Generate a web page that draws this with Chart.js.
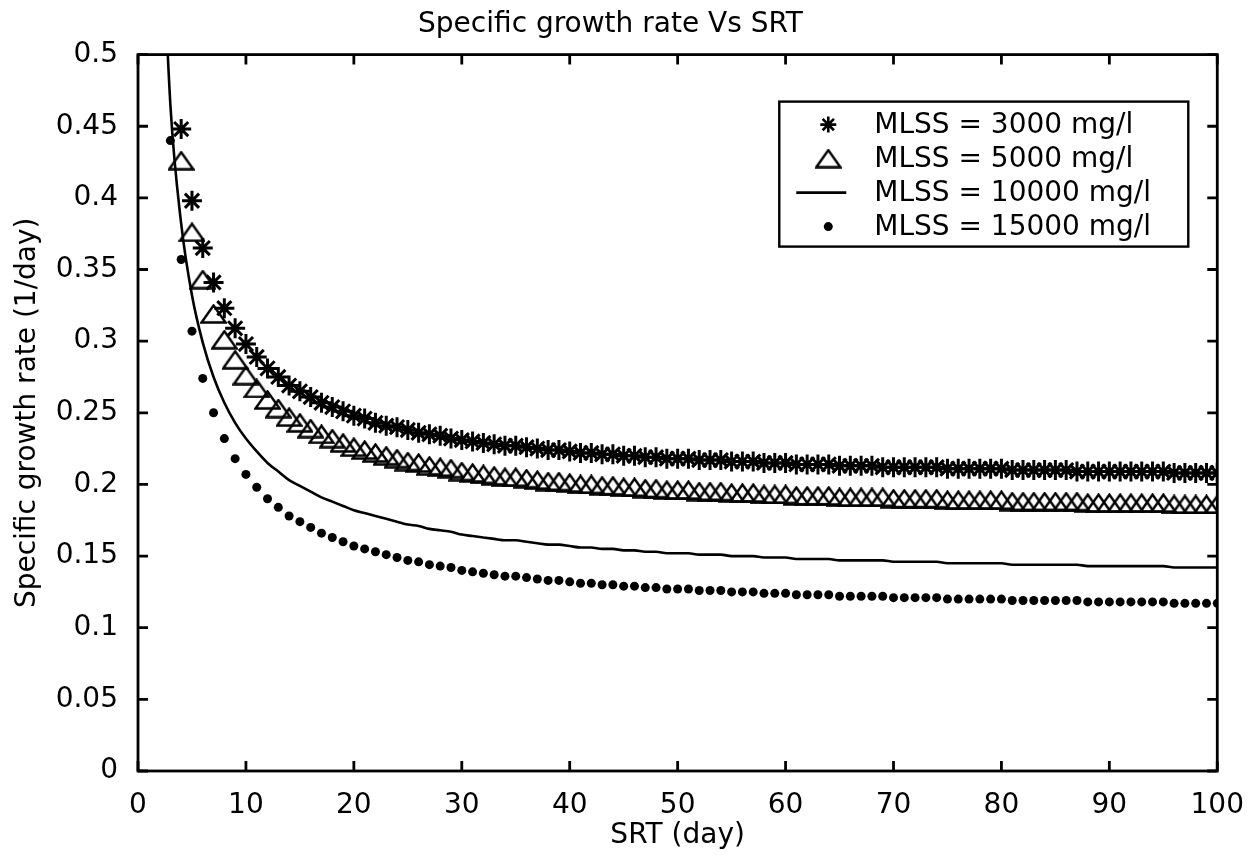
<!DOCTYPE html>
<html>
<head>
<meta charset="utf-8">
<title>Specific growth rate Vs SRT</title>
<script src="https://cdn.jsdelivr.net/npm/chart.js"></script>
<style>
  html, body { margin: 0; padding: 0; background: #fff; }
  #wrap { width: 1254px; height: 855px; }
</style>
</head>
<body>
<div id="wrap"><canvas id="myChart"></canvas></div>
<script>
// SRT values (day), one per point
var srtDays = [
  2, 3, 4, 5, 6, 7, 8, 9,
  10, 11, 12, 13, 14, 15, 16, 17, 18, 19,
  20, 21, 22, 23, 24, 25, 26, 27, 28, 29,
  30, 31, 32, 33, 34, 35, 36, 37, 38, 39,
  40, 41, 42, 43, 44, 45, 46, 47, 48, 49,
  50, 51, 52, 53, 54, 55, 56, 57, 58, 59,
  60, 61, 62, 63, 64, 65, 66, 67, 68, 69,
  70, 71, 72, 73, 74, 75, 76, 77, 78, 79,
  80, 81, 82, 83, 84, 85, 86, 87, 88, 89,
  90, 91, 92, 93, 94, 95, 96, 97, 98, 99,
  100
];

// specific growth rate (1/day)
var mu3000 = [
  null, null, 0.448, 0.398, 0.365, 0.341, 0.323, 0.309,
  0.298, 0.289, 0.281, 0.275, 0.269, 0.265, 0.261, 0.257, 0.254, 0.251,
  0.248, 0.246, 0.243, 0.241, 0.240, 0.238, 0.236, 0.235, 0.234, 0.232,
  0.231, 0.230, 0.229, 0.228, 0.227, 0.227, 0.226, 0.225, 0.224, 0.224,
  0.223, 0.222, 0.222, 0.221, 0.221, 0.220, 0.220, 0.219, 0.219, 0.218,
  0.218, 0.218, 0.217, 0.217, 0.217, 0.216, 0.216, 0.216, 0.215, 0.215,
  0.215, 0.214, 0.214, 0.214, 0.214, 0.213, 0.213, 0.213, 0.213, 0.212,
  0.212, 0.212, 0.212, 0.212, 0.212, 0.211, 0.211, 0.211, 0.211, 0.211,
  0.211, 0.210, 0.210, 0.210, 0.210, 0.210, 0.210, 0.209, 0.209, 0.209,
  0.209, 0.209, 0.209, 0.209, 0.209, 0.209, 0.208, 0.208, 0.208, 0.208,
  0.208
];
var mu5000 = [
  null, null, 0.426, 0.376, 0.343, 0.319, 0.301, 0.287,
  0.276, 0.267, 0.259, 0.253, 0.247, 0.243, 0.239, 0.235, 0.232, 0.229,
  0.226, 0.224, 0.222, 0.220, 0.218, 0.216, 0.215, 0.213, 0.212, 0.211,
  0.209, 0.208, 0.207, 0.206, 0.205, 0.205, 0.204, 0.203, 0.202, 0.202,
  0.201, 0.200, 0.200, 0.199, 0.199, 0.198, 0.198, 0.197, 0.197, 0.196,
  0.196, 0.196, 0.195, 0.195, 0.195, 0.194, 0.194, 0.194, 0.193, 0.193,
  0.193, 0.192, 0.192, 0.192, 0.192, 0.191, 0.191, 0.191, 0.191, 0.191,
  0.190, 0.190, 0.190, 0.190, 0.190, 0.189, 0.189, 0.189, 0.189, 0.189,
  0.189, 0.188, 0.188, 0.188, 0.188, 0.188, 0.188, 0.188, 0.187, 0.187,
  0.187, 0.187, 0.187, 0.187, 0.187, 0.187, 0.186, 0.186, 0.186, 0.186,
  0.186
];
var mu10000 = [
  0.632, 0.465, 0.382, 0.332, 0.299, 0.275, 0.257, 0.243,
  0.232, 0.223, 0.215, 0.209, 0.203, 0.199, 0.195, 0.191, 0.188, 0.185,
  0.182, 0.180, 0.178, 0.176, 0.174, 0.172, 0.171, 0.169, 0.168, 0.167,
  0.165, 0.164, 0.163, 0.162, 0.161, 0.161, 0.160, 0.159, 0.158, 0.158,
  0.157, 0.156, 0.156, 0.155, 0.155, 0.154, 0.154, 0.153, 0.153, 0.152,
  0.152, 0.152, 0.151, 0.151, 0.151, 0.150, 0.150, 0.150, 0.149, 0.149,
  0.149, 0.148, 0.148, 0.148, 0.148, 0.147, 0.147, 0.147, 0.147, 0.147,
  0.146, 0.146, 0.146, 0.146, 0.146, 0.145, 0.145, 0.145, 0.145, 0.145,
  0.145, 0.144, 0.144, 0.144, 0.144, 0.144, 0.144, 0.144, 0.143, 0.143,
  0.143, 0.143, 0.143, 0.143, 0.143, 0.143, 0.142, 0.142, 0.142, 0.142,
  0.142
];
var mu15000 = [
  null, 0.440, 0.357, 0.307, 0.274, 0.250, 0.232, 0.218,
  0.207, 0.198, 0.190, 0.184, 0.178, 0.174, 0.170, 0.166, 0.163, 0.160,
  0.157, 0.155, 0.153, 0.151, 0.149, 0.147, 0.146, 0.144, 0.143, 0.142,
  0.140, 0.139, 0.138, 0.137, 0.136, 0.136, 0.135, 0.134, 0.133, 0.133,
  0.132, 0.131, 0.131, 0.130, 0.130, 0.129, 0.129, 0.128, 0.128, 0.127,
  0.127, 0.127, 0.126, 0.126, 0.126, 0.125, 0.125, 0.125, 0.124, 0.124,
  0.124, 0.123, 0.123, 0.123, 0.123, 0.122, 0.122, 0.122, 0.122, 0.122,
  0.121, 0.121, 0.121, 0.121, 0.121, 0.120, 0.120, 0.120, 0.120, 0.120,
  0.120, 0.119, 0.119, 0.119, 0.119, 0.119, 0.119, 0.119, 0.118, 0.118,
  0.118, 0.118, 0.118, 0.118, 0.118, 0.118, 0.117, 0.117, 0.117, 0.117,
  0.117
];

var seriesLabels = ['MLSS = 3000 mg/l', 'MLSS = 5000 mg/l', 'MLSS = 10000 mg/l', 'MLSS = 15000 mg/l'];
var xTickLabels = ['0', '10', '20', '30', '40', '50', '60', '70', '80', '90', '100'];
var yTickLabels = ['0', '0.05', '0.1', '0.15', '0.2', '0.25', '0.3', '0.35', '0.4', '0.45', '0.5'];

function toPoints(ys) {
  var pts = [];
  for (var i = 0; i < srtDays.length; i++) {
    if (ys[i] !== null) pts.push({ x: srtDays[i], y: ys[i] });
  }
  return pts;
}

// wide open triangle like the matlab '^' marker
function makeTriangle() {
  var c = document.createElement('canvas');
  c.width = 27; c.height = 20;
  var g = c.getContext('2d');
  g.strokeStyle = '#000';
  g.lineWidth = 2.4;
  g.lineJoin = 'miter';
  g.beginPath();
  g.moveTo(1.5, 18.5);
  g.lineTo(13.5, 1.5);
  g.lineTo(25.5, 18.5);
  g.closePath();
  g.stroke();
  return c;
}
var triMarker = makeTriangle();

function drawStar(ctx, x, y, r) {
  ctx.beginPath();
  for (var k = 0; k < 4; k++) {
    var a = k * Math.PI / 4;
    ctx.moveTo(x - r * Math.cos(a), y - r * Math.sin(a));
    ctx.lineTo(x + r * Math.cos(a), y + r * Math.sin(a));
  }
  ctx.stroke();
}

// box around the plot and inward ticks
var framePlugin = {
  id: 'frame',
  afterDraw: function(chart) {
    var ctx = chart.ctx, a = chart.chartArea;
    var xs = chart.scales.x, ys = chart.scales.y;
    ctx.save();
    ctx.strokeStyle = '#000';
    ctx.lineWidth = 2.8;
    ctx.strokeRect(a.left, a.top, a.right - a.left, a.bottom - a.top);
    ctx.beginPath();
    xs.ticks.forEach(function(t) {
      var px = xs.getPixelForValue(t.value);
      ctx.moveTo(px, a.bottom); ctx.lineTo(px, a.bottom - 10);
      ctx.moveTo(px, a.top); ctx.lineTo(px, a.top + 10);
    });
    ys.ticks.forEach(function(t) {
      var py = ys.getPixelForValue(t.value);
      ctx.moveTo(a.left, py); ctx.lineTo(a.left + 10, py);
      ctx.moveTo(a.right, py); ctx.lineTo(a.right - 10, py);
    });
    ctx.stroke();
    ctx.restore();
  }
};

// boxed legend in the upper right corner
var boxLegend = {
  id: 'boxLegend',
  afterDraw: function(chart) {
    var ctx = chart.ctx, a = chart.chartArea;
    var right = a.right - 29, top = a.top + 47;
    var left = right - 409, height = 145;
    var symX = left + 49, textX = left + 95;
    ctx.save();
    ctx.fillStyle = '#fff';
    ctx.fillRect(left, top, right - left, height);
    ctx.strokeStyle = '#000';
    ctx.lineWidth = 2.4;
    ctx.strokeRect(left, top, right - left, height);
    ctx.font = '28px "DejaVu Sans"';
    ctx.fillStyle = '#000';
    ctx.textBaseline = 'middle';
    for (var i = 0; i < seriesLabels.length; i++) {
      var cy = top + 23 + i * 34;
      ctx.lineWidth = 2.6;
      if (i === 0) drawStar(ctx, symX, cy, 8);
      if (i === 1) ctx.drawImage(triMarker, symX - 13.5, cy - 10);
      if (i === 2) {
        ctx.beginPath(); ctx.moveTo(symX - 32, cy); ctx.lineTo(symX + 18, cy); ctx.stroke();
      }
      if (i === 3) {
        ctx.beginPath(); ctx.arc(symX, cy, 4.5, 0, Math.PI * 2); ctx.fill();
      }
      ctx.fillText(seriesLabels[i], textX, cy + 1);
    }
    ctx.restore();
  }
};

Chart.defaults.font.family = '"DejaVu Sans"';
Chart.defaults.font.size = 28;
Chart.defaults.color = '#000';

var ctx = document.getElementById('myChart').getContext('2d');
var myChart = new Chart(ctx, {
  type: 'scatter',
  data: {
    datasets: [
      {
        label: seriesLabels[0],
        data: toPoints(mu3000),
        pointStyle: 'star',
        pointRadius: 10,
        borderColor: '#000',
        borderWidth: 3,
        showLine: false
      },
      {
        label: seriesLabels[1],
        data: toPoints(mu5000),
        pointStyle: triMarker,
        borderColor: '#000',
        showLine: false
      },
      {
        label: seriesLabels[2],
        data: toPoints(mu10000),
        showLine: true,
        pointRadius: 0,
        borderColor: '#000',
        borderWidth: 2.6,
        cubicInterpolationMode: 'monotone'
      },
      {
        label: seriesLabels[3],
        data: toPoints(mu15000),
        pointStyle: 'circle',
        pointRadius: 4.5,
        backgroundColor: '#000',
        borderColor: '#000',
        borderWidth: 0,
        showLine: false
      }
    ]
  },
  options: {
    responsive: true,
    maintainAspectRatio: false,
    animation: false,
    layout: { padding: { left: 0, right: 33, top: 0, bottom: 0 } },
    plugins: {
      legend: { display: false },
      tooltip: { enabled: false },
      title: {
        display: true,
        text: 'Specific growth rate Vs SRT',
        font: { size: 28, weight: 'normal' },
        padding: { top: 8, bottom: 13 }
      }
    },
    scales: {
      x: {
        type: 'linear',
        min: 0,
        max: 100,
        afterFit: function(s) { s.height = 84; },
        grid: { display: false },
        border: { display: false },
        ticks: {
          stepSize: 10,
          maxRotation: 0,
          padding: 10,
          callback: function(v, i) { return xTickLabels[i]; }
        },
        title: { display: true, text: 'SRT (day)', padding: { top: 0, bottom: 2 } }
      },
      y: {
        type: 'linear',
        min: 0,
        max: 0.5,
        afterFit: function(s) { s.width = 138; },
        grid: { display: false },
        border: { display: false },
        ticks: {
          stepSize: 0.05,
          padding: 12,
          callback: function(v, i) { return yTickLabels[i]; }
        },
        title: { display: true, text: 'Specific growth rate (1/day)', padding: { top: 11, bottom: 0 } }
      }
    }
  },
  plugins: [framePlugin, boxLegend]
});
</script>
</body>
</html>
